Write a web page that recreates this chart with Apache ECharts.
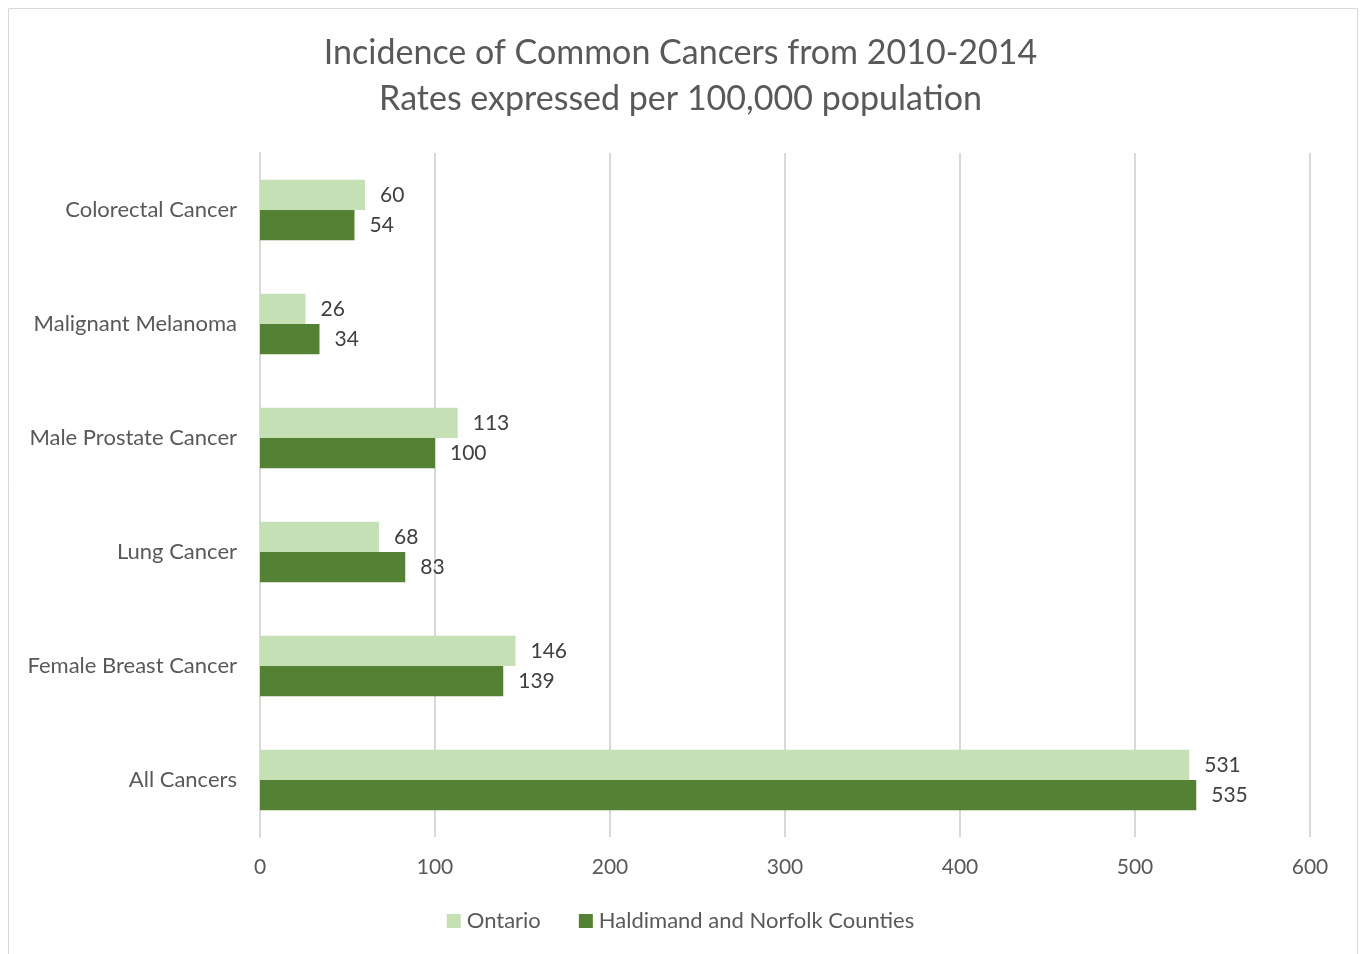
<!DOCTYPE html>
<html>
<head>
<meta charset="utf-8">
<script src="https://cdn.jsdelivr.net/npm/echarts@6/dist/echarts.min.js"></script>
<style>
  html, body { margin: 0; padding: 0; background: #fff; }
  #chart { width: 1361px; height: 954px; }
</style>
</head>
<body>
<div id="chart"></div>
<script>
const categories = ['All Cancers', 'Female Breast Cancer', 'Lung Cancer', 'Male Prostate Cancer', 'Malignant Melanoma', 'Colorectal Cancer'];
const ontario = [531, 146, 68, 113, 26, 60];
const haldimand = [535, 139, 83, 100, 34, 54];
const xTicks = [0, 100, 200, 300, 400, 500, 600];

const chart = echarts.init(document.getElementById('chart'));
const font = 'Lato, "Open Sans", sans-serif';

const option = {
  textStyle: { fontFamily: font },
  animation: false,
  title: {
    text: 'Incidence of Common Cancers from 2010-2014\nRates expressed per 100,000 population',
    left: 'center',
    top: 25,
    textStyle: {
      fontFamily: font,
      fontSize: 34,
      fontWeight: 'normal',
      color: '#595959',
      lineHeight: 46
    }
  },
  graphic: [{
    type: 'rect',
    shape: { x: 8.5, y: 8.5, width: 1349, height: 960 },
    style: { fill: 'none', stroke: '#d9d9d9', lineWidth: 1 },
    silent: true
  }],
  legend: {
    bottom: 17,
    left: 'center',
    itemWidth: 14,
    itemHeight: 14,
    itemGap: 38,
    icon: 'rect',
    textStyle: { fontFamily: font, fontSize: 22, color: '#595959', padding: [0, 0, 0, 1] },
    data: ['Ontario', 'Haldimand and Norfolk Counties']
  },
  grid: { left: 260, right: 51, top: 153, bottom: 117 },
  xAxis: {
    type: 'value',
    min: xTicks[0],
    max: xTicks[xTicks.length - 1],
    interval: 100,
    axisLine: { show: false },
    axisTick: { show: false },
    axisLabel: { fontFamily: font, fontSize: 21, color: '#595959', margin: 20 },
    splitLine: { lineStyle: { color: '#d9d9d9', width: 2 } }
  },
  yAxis: {
    type: 'category',
    data: categories,
    axisLine: { show: true, lineStyle: { color: '#d9d9d9', width: 2 } },
    axisTick: { show: false },
    axisLabel: { fontFamily: font, fontSize: 22, color: '#595959', margin: 23 }
  },
  series: [
    {
      name: 'Ontario',
      type: 'bar',
      data: ontario,
      barGap: '0%',
      barCategoryGap: '47%',
      itemStyle: { color: '#c5e0b4' },
      label: { show: true, position: 'right', distance: 15, fontFamily: font, fontSize: 21, color: '#404040' }
    },
    {
      name: 'Haldimand and Norfolk Counties',
      type: 'bar',
      data: haldimand,
      barGap: '0%',
      barCategoryGap: '47%',
      itemStyle: { color: '#548235' },
      label: { show: true, position: 'right', distance: 15, fontFamily: font, fontSize: 21, color: '#404040' }
    }
  ]
};

chart.setOption(option);
</script>
</body>
</html>
